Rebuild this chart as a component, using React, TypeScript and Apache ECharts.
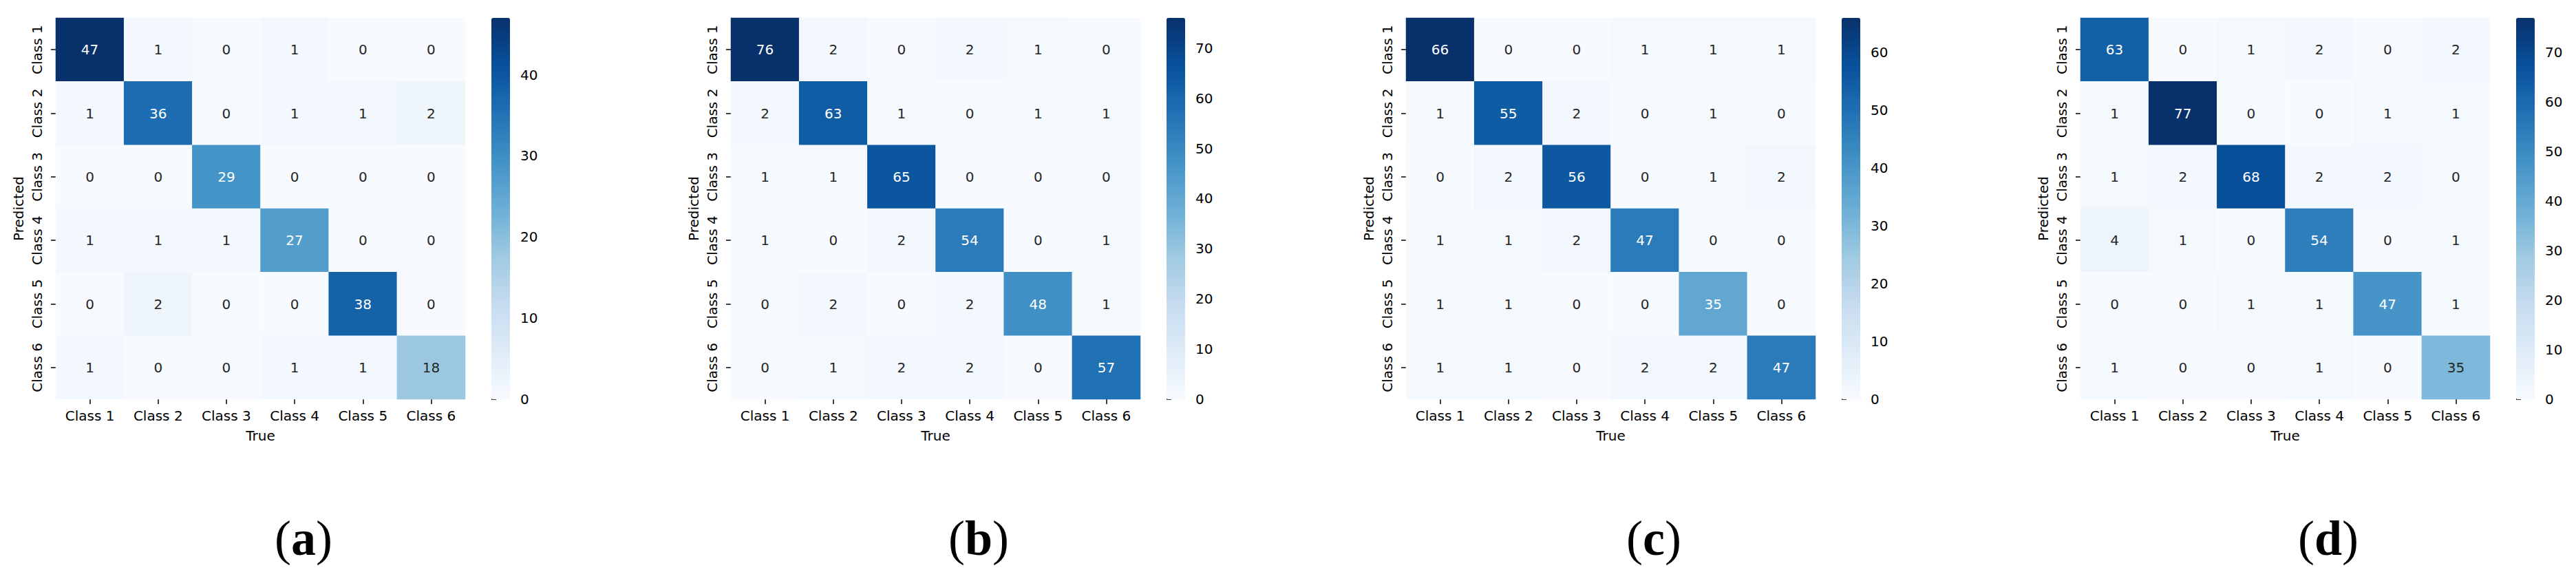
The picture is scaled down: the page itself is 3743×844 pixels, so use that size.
import React, { useEffect, useRef } from "react";
import * as echarts from "echarts";

const classes = ["Class 1", "Class 2", "Class 3", "Class 4", "Class 5", "Class 6"];

// rows = Predicted, columns = True
const matrixA = [
  [47, 1, 0, 1, 0, 0],
  [1, 36, 0, 1, 1, 2],
  [0, 0, 29, 0, 0, 0],
  [1, 1, 1, 27, 0, 0],
  [0, 2, 0, 0, 38, 0],
  [1, 0, 0, 1, 1, 18],
];
const matrixB = [
  [76, 2, 0, 2, 1, 0],
  [2, 63, 1, 0, 1, 1],
  [1, 1, 65, 0, 0, 0],
  [1, 0, 2, 54, 0, 1],
  [0, 2, 0, 2, 48, 1],
  [0, 1, 2, 2, 0, 57],
];
const matrixC = [
  [66, 0, 0, 1, 1, 1],
  [1, 55, 2, 0, 1, 0],
  [0, 2, 56, 0, 1, 2],
  [1, 1, 2, 47, 0, 0],
  [1, 1, 0, 0, 35, 0],
  [1, 1, 0, 2, 2, 47],
];
const matrixD = [
  [63, 0, 1, 2, 0, 2],
  [1, 77, 0, 0, 1, 1],
  [1, 2, 68, 2, 2, 0],
  [4, 1, 0, 54, 0, 1],
  [0, 0, 1, 1, 47, 1],
  [1, 0, 0, 1, 0, 35],
];

const colorbarTicksA = [0, 10, 20, 30, 40];
const colorbarTicksB = [0, 10, 20, 30, 40, 50, 60, 70];
const colorbarTicksC = [0, 10, 20, 30, 40, 50, 60];
const colorbarTicksD = [0, 10, 20, 30, 40, 50, 60, 70];

const panelLabels = ["a", "b", "c", "d"];

const BLUES = [
  "#f7fbff", "#deebf7", "#c6dbef", "#9ecae1", "#6baed6",
  "#4292c6", "#2171b5", "#08519c", "#08306b",
];

const FONT = "DejaVu Sans";

function hexToRgb(h: string) {
  return [parseInt(h.slice(1, 3), 16), parseInt(h.slice(3, 5), 16), parseInt(h.slice(5, 7), 16)];
}
function bluesAt(t: number) {
  const n = BLUES.length - 1;
  const p = Math.max(0, Math.min(1, t)) * n;
  const i = Math.min(Math.floor(p), n - 1);
  const f = p - i;
  const a = hexToRgb(BLUES[i]);
  const b = hexToRgb(BLUES[i + 1]);
  return a.map((v, k) => v + (b[k] - v) * f);
}
function luminance(rgb: number[]) {
  const lin = rgb.map((c) => {
    const s = c / 255;
    return s <= 0.03928 ? s / 12.92 : Math.pow((s + 0.055) / 1.055, 2.4);
  });
  return 0.2126 * lin[0] + 0.7152 * lin[1] + 0.0722 * lin[2];
}

export default function App() {
  const ref = useRef<HTMLDivElement>(null);

  useEffect(() => {
    document.body.style.margin = "0";
    if (!ref.current) return;
    const chart = echarts.init(ref.current, undefined, { renderer: "svg" });

    const matrices = [matrixA, matrixB, matrixC, matrixD];
    const ticks = [colorbarTicksA, colorbarTicksB, colorbarTicksC, colorbarTicksD];
    const lefts = [81, 1062, 2043, 3023];
    const TOP = 26;
    const W = 595;
    const H = 554;
    const CB_OFF = 633;
    const CB_W = 27;

    const grids: any[] = [];
    const xAxes: any[] = [];
    const yAxes: any[] = [];
    const cbGrids: any[] = [];
    const cbX: any[] = [];
    const cbY: any[] = [];
    const series: any[] = [];
    const visualMaps: any[] = [];
    const graphics: any[] = [];

    matrices.forEach((m, i) => {
      const vmax = Math.max(...m.flat());
      const L = lefts[i];
      grids.push({ left: L, top: TOP, width: W, height: H, containLabel: false });
      xAxes.push({
        type: "category",
        gridIndex: i,
        data: classes,
        position: "bottom",
        axisLine: { show: false },
        axisTick: { show: true, length: 7, alignWithLabel: true, interval: 0, lineStyle: { color: "#000", width: 1.5 } },
        axisLabel: { fontSize: 20, color: "#000", margin: 14, fontFamily: FONT, interval: 0, hideOverlap: false },
        splitLine: { show: false },
        name: "True",
        nameLocation: "middle",
        nameGap: 43,
        nameTextStyle: { fontSize: 20, color: "#000", fontFamily: FONT },
      });
      yAxes.push({
        type: "category",
        gridIndex: i,
        data: classes,
        inverse: true,
        axisLine: { show: false },
        axisTick: { show: true, length: 7, alignWithLabel: true, interval: 0, lineStyle: { color: "#000", width: 1.5 } },
        axisLabel: { fontSize: 20, color: "#000", margin: 17, rotate: 90, fontFamily: FONT, interval: 0, hideOverlap: false },
        splitLine: { show: false },
        name: "Predicted",
        nameLocation: "middle",
        nameRotate: 90,
        nameGap: 44,
        nameTextStyle: { fontSize: 20, color: "#000", fontFamily: FONT },
      });

      const data: any[] = [];
      m.forEach((row, r) => {
        row.forEach((v, c) => {
          const lum = luminance(bluesAt(v / vmax));
          data.push({
            value: [c, r, v],
            label: { color: lum > 0.408 ? "#262626" : "#ffffff" },
          });
        });
      });
      series.push({
        type: "heatmap",
        xAxisIndex: i,
        yAxisIndex: i,
        data,
        label: {
          show: true,
          fontSize: 20,
          fontFamily: FONT,
          formatter: (p: any) => String(p.value[2]),
        },
        itemStyle: { borderWidth: 0 },
        emphasis: { disabled: true },
      });
      visualMaps.push({
        type: "continuous",
        seriesIndex: i,
        dimension: 2,
        min: 0,
        max: vmax,
        left: L + CB_OFF,
        top: TOP,
        itemWidth: CB_W,
        itemHeight: H,
        padding: 0,
        calculable: false,
        hoverLink: false,
        inRange: { color: BLUES },
        textStyle: { fontSize: 0, color: "transparent" },
      });

      // colorbar tick axis
      const gi = 4 + i;
      cbGrids.push({ left: L + CB_OFF, top: TOP, width: CB_W, height: H });
      cbX.push({ type: "value", gridIndex: gi, show: false, min: 0, max: 1 });
      cbY.push({
        type: "value",
        gridIndex: gi,
        position: "right",
        min: 0,
        max: vmax,
        axisLine: { show: false },
        splitLine: { show: false },
        axisTick: { show: true, length: 7, customValues: ticks[i], lineStyle: { color: "#000", width: 1.5 } },
        axisLabel: { fontSize: 20, color: "#000", margin: 15, fontFamily: FONT, customValues: ticks[i] },
      });

      graphics.push({
        type: "text",
        x: L + 360,
        y: 782,
        style: {
          text: "{p|(}{b|" + panelLabels[i] + "}{p|)}",
          textAlign: "center",
          textVerticalAlign: "middle",
          rich: {
            p: { fontFamily: "Liberation Serif", fontSize: 72, fill: "#000" },
            b: { fontFamily: "Liberation Serif", fontSize: 72, fontWeight: "bold", fill: "#000" },
          },
        },
      });
    });

    chart.setOption({
      animation: false,
      backgroundColor: "#ffffff",
      grid: grids.concat(cbGrids),
      xAxis: xAxes.concat(cbX),
      yAxis: yAxes.concat(cbY),
      visualMap: visualMaps,
      series,
      graphic: graphics,
    });

    return () => chart.dispose();
  }, []);

  return <div ref={ref} style={{ width: 3743, height: 844 }} />;
}
